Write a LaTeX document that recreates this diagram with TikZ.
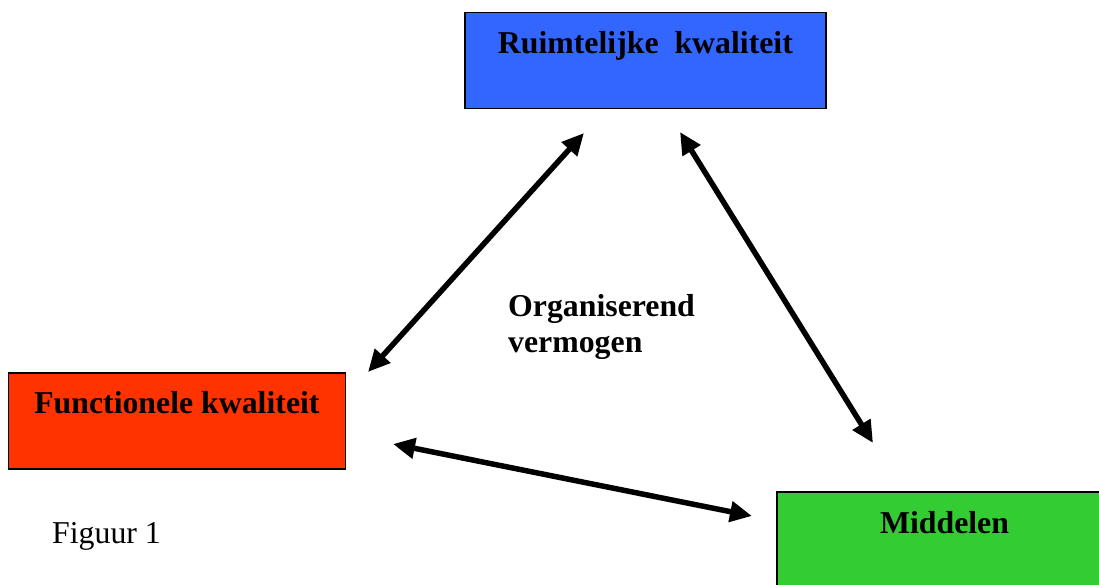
\documentclass[tikz,border=0pt]{standalone}
\usepackage{fontspec}
\setmainfont{Liberation Serif}
\usetikzlibrary{arrows.meta,calc}
\definecolor{rkblue}{HTML}{3366FF}
\definecolor{fkred}{HTML}{FF3300}
\definecolor{mgreen}{HTML}{33CC33}
\tikzset{
  box/.style={draw=black, line width=1.8pt, anchor=north west, inner sep=0pt},
  lbl/.style={anchor=base, inner sep=0pt, font=\fontsize{31.8}{36}\selectfont\bfseries},
  dbl/.style={line width=5.5pt, {Triangle[length=22pt,width=20pt]}-{Triangle[length=22pt,width=20pt]}}
}
\begin{document}
\begin{tikzpicture}[x=1pt,y=-1pt]
\useasboundingbox (0,0) rectangle (1099,584);
% boxes
\node[box, fill=rkblue, minimum width=361pt, minimum height=96pt] (rk) at (464,11.5) {};
\node[box, fill=fkred, minimum width=337pt, minimum height=96pt] (fk) at (7.5,372) {};
\node[box, fill=mgreen, minimum width=340pt, minimum height=110pt] (md) at (776,491) {};
% labels
\node[lbl] (rkt) at ($(rk.north)+(0,41.5)$) {Ruimtelijke\ \ kwaliteit};
\node[lbl] (fkt) at ($(fk.north)+(0,41)$) {Functionele kwaliteit};
\node[lbl] (mdt) at (944.5,533) {Middelen};
\node[lbl, anchor=base west, align=left] (org) at (508,352) {Organiserend\\vermogen};
\node[anchor=base west, inner sep=0pt, font=\fontsize{31.8}{36}\selectfont] (fig) at (52,543) {Figuur 1};
% arrow end points
\coordinate (a1s) at (368,372);
\coordinate (a1e) at (584,133);
\coordinate (a2s) at (680,132);
\coordinate (a2e) at (873,443);
\coordinate (a3s) at (393,444);
\coordinate (a3e) at (752,516);
\draw[dbl] (a1s) -- (a1e);
\draw[dbl] (a2s) -- (a2e);
\draw[dbl] (a3s) -- (a3e);
\end{tikzpicture}
\end{document}
